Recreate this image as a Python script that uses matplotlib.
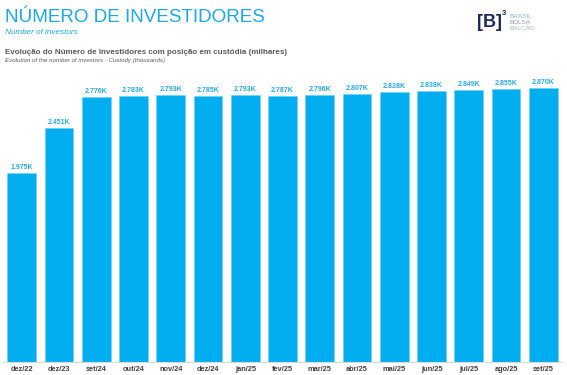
import matplotlib
matplotlib.use("Agg")
import matplotlib.pyplot as plt

plt.rcParams['font.family'] = ['Liberation Sans', 'DejaVu Sans']

months = ["dez/22", "dez/23", "set/24", "out/24", "nov/24", "dez/24", "jan/25",
          "fev/25", "mar/25", "abr/25", "mai/25", "jun/25", "jul/25", "ago/25", "set/25"]
investors = [1975, 2451, 2776, 2783, 2793, 2785, 2793, 2787, 2796, 2807,
             2828, 2838, 2849, 2855, 2870]
value_labels = ["1.975K", "2.451K", "2.776K", "2.783K", "2.793K", "2.785K", "2.793K",
                "2.787K", "2.796K", "2.807K", "2.828K", "2.838K", "2.849K", "2.855K", "2.870K"]

BLUE = "#00AEEF"
W, H = 567, 375

fig = plt.figure(figsize=(W / 100, H / 100), dpi=100)
# axes placed in pixel terms: x 3..562, y baseline 362
ax = fig.add_axes([3 / W, (H - 362) / H, 559 / W, (362 - 62) / H])

x = range(len(months))
ax.bar(x, investors, width=0.77, color=BLUE, edgecolor="#6FD0F5", linewidth=0.4)
for i, (v, lab) in enumerate(zip(investors, value_labels)):
    ax.text(i, v + 22, lab, ha="center", va="bottom", fontsize=5.0,
            fontweight="bold", color="#29A8E0")

ax.set_xlim(-0.5, len(months) - 0.5)
ax.set_ylim(0, 3140)
ax.set_yticks([])
ax.set_xticks(list(x))
ax.set_xticklabels(months, fontsize=5.3, fontweight="bold", color="#404040")
ax.tick_params(axis="x", length=0, pad=3)
for s in ["top", "right", "left"]:
    ax.spines[s].set_visible(False)
ax.spines["bottom"].set_color("#D9D9D9")
ax.spines["bottom"].set_linewidth(0.8)

# header texts
fig.text(5 / W, 1 - 22 / H, "NÚMERO DE INVESTIDORES", fontsize=13.6, color="#1BA8E4",
         ha="left", va="baseline")
fig.text(5 / W, 1 - 34 / H, "Number of investors", fontsize=5.9, style="italic",
         color="#1BA8E4", ha="left", va="baseline")
fig.text(5 / W, 1 - 54 / H, "Evolução do Número de Investidores com posição em custódia (milhares)",
         fontsize=5.75, fontweight="bold", color="#595959", ha="left", va="baseline")
fig.text(5 / W, 1 - 62 / H, "Evolution of the number of investors - Custody (thousands)",
         fontsize=4.4, style="italic", color="#595959", ha="left", va="baseline")

# logo
fig.text(477 / W, 1 - 27 / H, "[B]", fontsize=13, fontweight="bold", color="#1F2A5C",
         ha="left", va="baseline")
fig.text(502 / W, 1 - 15 / H, "3", fontsize=5.5, fontweight="bold", color="#1F2A5C",
         ha="left", va="baseline")
for j, (word, col) in enumerate([("BRASIL", "#7FB3E6"), ("BOLSA", "#8A9BB8"), ("BALCÃO", "#A9B4C6")]):
    fig.text(510 / W, 1 - (18 + j * 6) / H, word, fontsize=4.6, color=col,
             ha="left", va="baseline")

fig.savefig("out.png", dpi=100)
